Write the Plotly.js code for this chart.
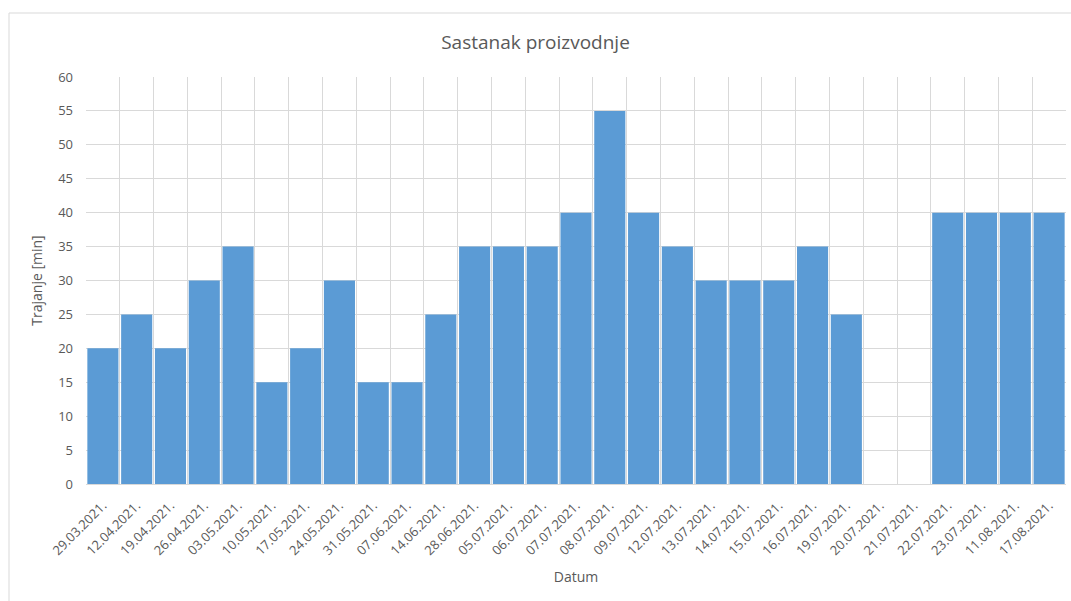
<!DOCTYPE html>
<html>
<head>
<meta charset="utf-8">
<script src="https://cdn.plot.ly/plotly-3.0.1.min.js"></script>
<style>html,body{margin:0;padding:0;background:#fff;}#chart{width:1071px;height:601px;}</style>
</head>
<body>
<div id="chart"></div>
<script>
const categories = ["29.03.2021.","12.04.2021.","19.04.2021.","26.04.2021.","03.05.2021.","10.05.2021.","17.05.2021.","24.05.2021.","31.05.2021.","07.06.2021.","14.06.2021.","28.06.2021.","05.07.2021.","06.07.2021.","07.07.2021.","08.07.2021.","09.07.2021.","12.07.2021.","13.07.2021.","14.07.2021.","15.07.2021.","16.07.2021.","19.07.2021.","20.07.2021.","21.07.2021.","22.07.2021.","23.07.2021.","11.08.2021.","17.08.2021."];
const trajanje = [20,25,20,30,35,15,20,30,15,15,25,35,35,35,40,55,40,35,30,30,30,35,25,0,0,40,40,40,40];
const yTicks = [0,5,10,15,20,25,30,35,40,45,50,55,60];

const fontFam = "'Open Sans', 'Liberation Sans', sans-serif";
const grey = "#595959";

const trace = {
  type: "bar",
  x: categories,
  y: trajanje,
  marker: {color: "#5B9BD5", line: {width: 0}},
  hoverinfo: "x+y"
};

const L = 86, R = 1066, T = 77, B = 484, W = 1071, H = 601;
const px = v => (v - L) / (R - L);
const py = v => (B - v) / (B - T);

const layout = {
  width: W, height: H,
  margin: {l: L, r: W - R, t: T, b: H - B, pad: 0},
  paper_bgcolor: "#fff",
  plot_bgcolor: "#fff",
  bargap: 0.08,
  showlegend: false,
  font: {family: fontFam, color: grey, size: 13},
  title: {text: "Sastanak proizvodnje", font: {size: 19, color: grey, family: fontFam}, x: 0.5, xanchor: "center", y: 1 - 42 / H, yanchor: "middle"},
  xaxis: {
    type: "category",
    tickson: "boundaries",
    showgrid: true,
    gridcolor: "#d9d9d9",
    gridwidth: 1,
    showline: true,
    linecolor: "#d9d9d9",
    ticks: "",
    tickangle: -45,
    ticklabelstandoff: 8,
    tickfont: {size: 13, color: grey, family: fontFam},
    title: {text: "Datum", font: {size: 14, color: grey, family: fontFam}, standoff: 14},
    automargin: false,
    fixedrange: true
  },
  yaxis: {
    range: [0, 60],
    tickvals: yTicks,
    ticktext: yTicks.map(String),
    showgrid: true,
    gridcolor: "#d9d9d9",
    gridwidth: 1,
    zeroline: false,
    showline: false,
    ticks: "",
    ticklabelstandoff: 12,
    tickfont: {size: 13, color: grey, family: fontFam},
    title: {text: "Trajanje [min]", font: {size: 14, color: grey, family: fontFam}, standoff: 12},
    automargin: false,
    fixedrange: true
  },
  shapes: [
    {type: "rect", xref: "paper", yref: "paper", x0: px(9), x1: px(1080), y0: py(610), y1: py(13), line: {color: "#d9d9d9", width: 1}, fillcolor: "rgba(0,0,0,0)", layer: "below"}
  ]
};

Plotly.newPlot("chart", [trace], layout, {displayModeBar: false, staticPlot: true});
</script>
</body>
</html>
